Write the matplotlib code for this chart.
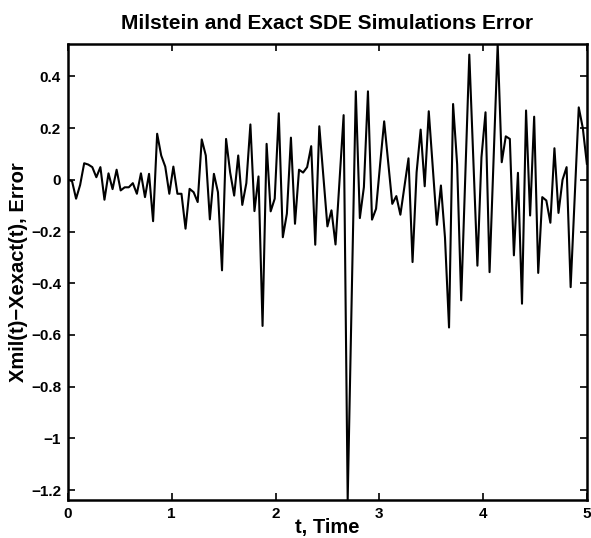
"""Milstein vs exact SDE solution: pointwise error over time, MATLAB-style plot."""
import numpy as np
import matplotlib

matplotlib.use("Agg")
import matplotlib.pyplot as plt  # noqa: E402
from matplotlib.ticker import FuncFormatter  # noqa: E402

plt.rcParams["font.family"] = ["Liberation Sans", "DejaVu Sans"]
plt.rcParams["font.weight"] = "bold"

# error Xmil(t) - Xexact(t) on a grid of 128 steps over [0, 5]
T_END = 5.0
error = [
    0.000, -0.005, -0.073, -0.020, 0.064, 0.059, 0.049, 0.010, 0.049, -0.077,
    0.025, -0.036, 0.039, -0.041, -0.029, -0.029, -0.013, -0.054, 0.025, -0.067,
    0.023, -0.160, 0.178, 0.094, 0.051, -0.054, 0.051, -0.054, -0.054, -0.189,
    -0.035, -0.048, -0.086, 0.156, 0.094, -0.153, 0.023, -0.048, -0.350, 0.158,
    0.029, -0.061, 0.094, -0.097, -0.013, 0.214, -0.121, 0.013, -0.565, 0.139,
    -0.122, -0.073, 0.257, -0.222, -0.131, 0.163, -0.170, 0.039, 0.028, 0.049,
    0.130, -0.251, 0.207, 0.015, -0.180, -0.118, -0.250, 0.000, 0.250, -1.238,
    -0.447, 0.342, -0.148, -0.028, 0.342, -0.154, -0.112, 0.060, 0.226, 0.067,
    -0.093, -0.063, -0.135, -0.026, 0.083, -0.318, 0.029, 0.194, -0.025, 0.265,
    0.047, -0.174, -0.022, -0.223, -0.571, 0.293, 0.060, -0.466, 0.009, 0.484,
    0.076, -0.332, 0.087, 0.261, -0.357, 0.086, 0.525, 0.068, 0.168, 0.158,
    -0.292, 0.027, -0.479, 0.268, -0.138, 0.244, -0.360, -0.067, -0.080, -0.166,
    0.122, -0.128, 0.000, 0.049, -0.415, -0.067, 0.280, 0.200, 0.062,
]
t = np.linspace(0.0, T_END, len(error))

x_ticks = [0, 1, 2, 3, 4, 5]
y_ticks = [-1.2, -1.0, -0.8, -0.6, -0.4, -0.2, 0.0, 0.2, 0.4]

fig = plt.figure(figsize=(5.91, 5.38), dpi=100)
ax = fig.add_axes([0.115, 0.0706, 0.878, 0.8476])

ax.plot(t, error, color="black", linewidth=1.5)

# axis tight, as in the original script
ax.set_xlim(0, T_END)
ax.set_ylim(min(error), max(error))

ax.set_xticks(x_ticks)
ax.set_yticks(y_ticks)
fmt = FuncFormatter(lambda v, _: f"{v:g}".replace("-", "\u2212"))
ax.xaxis.set_major_formatter(fmt)
ax.yaxis.set_major_formatter(fmt)
ax.tick_params(direction="in", length=5, width=1.2, top=True, right=True,
               labelsize=11, pad=5)
for lbl in ax.get_xticklabels() + ax.get_yticklabels():
    lbl.set_fontweight("bold")
for spine in ax.spines.values():
    spine.set_linewidth(1.8)

ax.set_title("Milstein and Exact SDE Simulations Error", fontsize=15,
             fontweight="bold", pad=11)
ax.set_xlabel("t, Time", fontsize=14.5, fontweight="bold", labelpad=-2)
ax.set_ylabel("Xmil(t)\u2212Xexact(t), Error", fontsize=14.5, fontweight="bold",
              labelpad=2)

fig.savefig("out.png", dpi=100)
